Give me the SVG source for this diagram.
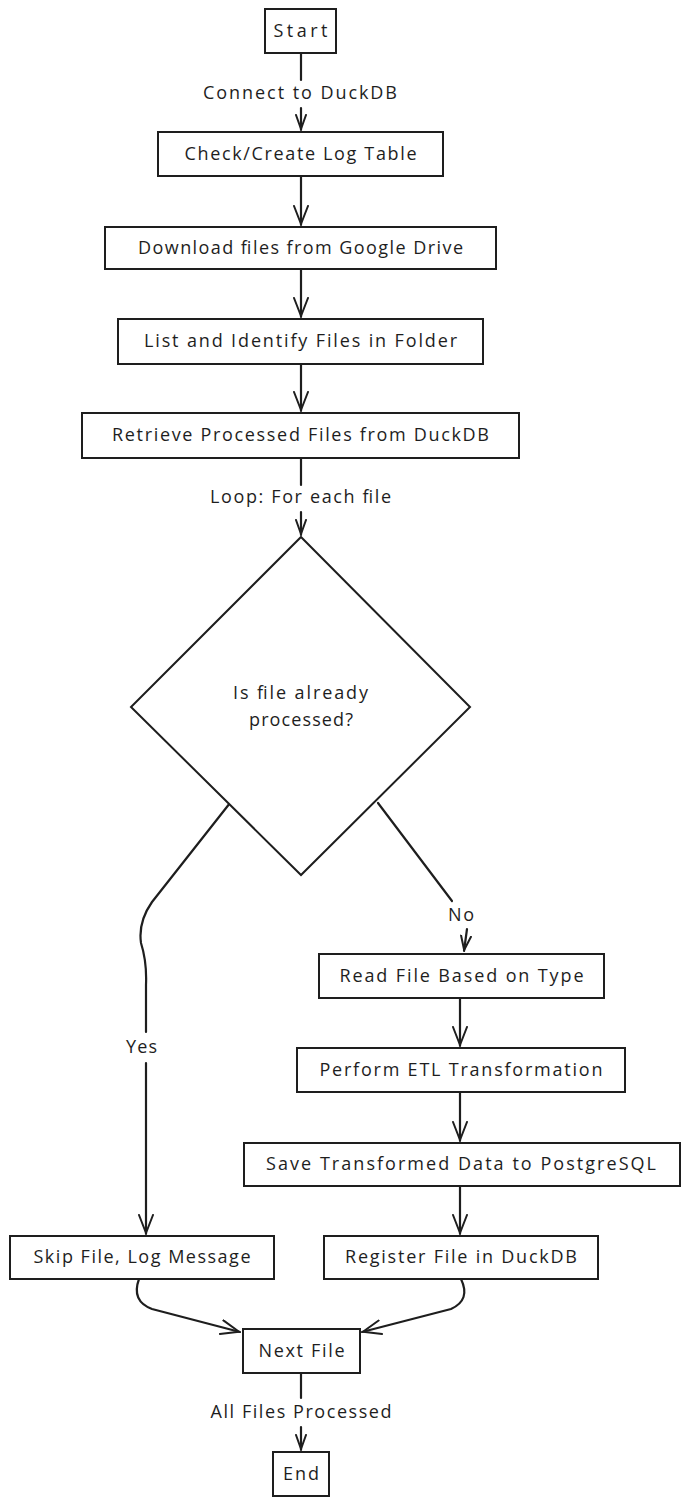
<svg xmlns="http://www.w3.org/2000/svg" width="686" height="1506" viewBox="0 0 686 1506">
<style>
  .box{fill:#fff;stroke:#1e1e1e;stroke-width:2}
  .t{font-family:"Open Sans","Liberation Sans",sans-serif;font-size:18px;fill:#1e1e1e;text-anchor:middle}
  .e{fill:none;stroke:#1e1e1e;stroke-width:2.2;stroke-linecap:round;stroke-linejoin:round}
</style>
<defs>
  <marker id="arr" viewBox="0 0 20 16" refX="20" refY="8" markerWidth="20" markerHeight="16" markerUnits="userSpaceOnUse" orient="auto">
    <path d="M1,1 L19,8 L1,15" fill="none" stroke="#1e1e1e" stroke-width="2" stroke-linecap="round" stroke-linejoin="round"/>
  </marker>
  <marker id="arrS" viewBox="0 0 16 12" refX="16" refY="6" markerWidth="16" markerHeight="12" markerUnits="userSpaceOnUse" orient="auto">
    <path d="M1,1 L15,6 L1,11" fill="none" stroke="#1e1e1e" stroke-width="2" stroke-linecap="round" stroke-linejoin="round"/>
  </marker>
</defs>
<rect width="686" height="1506" fill="#fff"/>
<g id="connectors">
  <line class="e" x1="301" y1="53" x2="301" y2="80"/>
  <line class="e" x1="301" y1="108" x2="301" y2="130" marker-end="url(#arrS)"/>
  <line class="e" x1="301" y1="176" x2="301" y2="225" marker-end="url(#arr)"/>
  <line class="e" x1="301" y1="269" x2="301" y2="317" marker-end="url(#arr)"/>
  <line class="e" x1="301" y1="364" x2="301" y2="411" marker-end="url(#arr)"/>
  <line class="e" x1="301" y1="458" x2="301" y2="485"/>
  <line class="e" x1="301" y1="512" x2="301" y2="535" marker-end="url(#arrS)"/>
  <path class="e" d="M378,803 L452,901"/>
  <path class="e" d="M467,929 L464,951" marker-end="url(#arrS)"/>
  <path class="e" d="M230,803 L152,902 Q138,922 141,943 Q147,962 146,985 L146,1032"/>
  <path class="e" d="M146,1063 L146,1234" marker-end="url(#arr)"/>
  <line class="e" x1="460" y1="998" x2="460" y2="1046" marker-end="url(#arr)"/>
  <line class="e" x1="460" y1="1092" x2="460" y2="1141" marker-end="url(#arr)"/>
  <line class="e" x1="460" y1="1186" x2="460" y2="1234" marker-end="url(#arr)"/>
  <path class="e" d="M139,1279 Q131,1301 152,1309 L240,1332" marker-end="url(#arr)"/>
  <path class="e" d="M461,1279 Q471,1300 451,1309 L362,1332" marker-end="url(#arr)"/>
  <line class="e" x1="301" y1="1373" x2="301" y2="1398"/>
  <line class="e" x1="301" y1="1427" x2="301" y2="1450" marker-end="url(#arrS)"/>
  <text class="t" x="300" y="99" textLength="194">Connect to DuckDB</text>
  <text class="t" x="300.5" y="503" textLength="181">Loop: For each file</text>
  <text class="t" x="461" y="921" textLength="26">No</text>
  <text class="t" x="141.5" y="1053" textLength="31">Yes</text>
  <text class="t" x="301" y="1418" textLength="181">All Files Processed</text>
</g>
<g id="start">
  <rect class="box" x="265" y="9" width="71" height="44"/>
  <text class="t" x="300.5" y="37" textLength="54">Start</text>
</g>
<g id="check">
  <rect class="box" x="158" y="132" width="285" height="44"/>
  <text class="t" x="300.5" y="160" textLength="232">Check/Create Log Table</text>
</g>
<g id="download">
  <rect class="box" x="105" y="227" width="391" height="42"/>
  <text class="t" x="300.5" y="254" textLength="325">Download files from Google Drive</text>
</g>
<g id="list">
  <rect class="box" x="118" y="319" width="365" height="45"/>
  <text class="t" x="300.5" y="347" textLength="313">List and Identify Files in Folder</text>
</g>
<g id="retrieve">
  <rect class="box" x="82" y="413" width="437" height="45"/>
  <text class="t" x="300.5" y="441" textLength="377">Retrieve Processed Files from DuckDB</text>
</g>
<g id="decision">
  <polygon class="box" points="301,537 470,707 301,875 131,707"/>
  <text class="t" x="300.5" y="699" textLength="135">Is file already</text>
  <text class="t" x="301" y="726" textLength="104">processed?</text>
</g>
<g id="read">
  <rect class="box" x="319" y="954" width="285" height="44"/>
  <text class="t" x="461.5" y="982" textLength="244">Read File Based on Type</text>
</g>
<g id="perform">
  <rect class="box" x="297" y="1048" width="328" height="44"/>
  <text class="t" x="461" y="1076" textLength="283">Perform ETL Transformation</text>
</g>
<g id="save">
  <rect class="box" x="244" y="1143" width="436" height="43"/>
  <text class="t" x="461" y="1170" textLength="390">Save Transformed Data to PostgreSQL</text>
</g>
<g id="skip">
  <rect class="box" x="10" y="1236" width="264" height="43"/>
  <text class="t" x="142" y="1263" textLength="217">Skip File, Log Message</text>
</g>
<g id="register">
  <rect class="box" x="324" y="1236" width="274" height="43"/>
  <text class="t" x="461" y="1263" textLength="232">Register File in DuckDB</text>
</g>
<g id="next">
  <rect class="box" x="243" y="1329" width="117" height="44"/>
  <text class="t" x="301.5" y="1357" textLength="86">Next File</text>
</g>
<g id="end">
  <rect class="box" x="273" y="1452" width="56" height="44"/>
  <text class="t" x="301" y="1480" textLength="36">End</text>
</g>
</svg>
